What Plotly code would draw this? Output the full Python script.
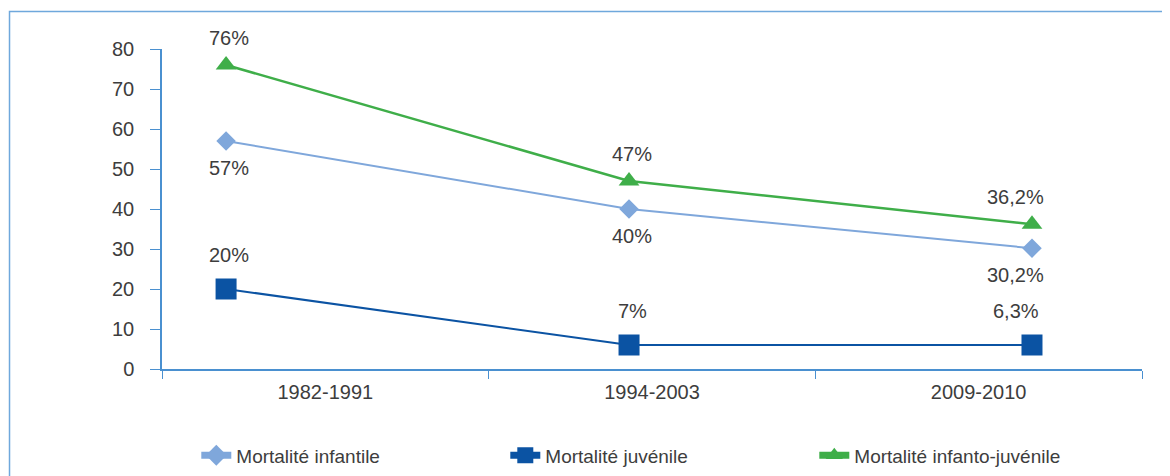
import plotly.graph_objects as go

# ---- data ----
periods = ["1982-1991", "1994-2003", "2009-2010"]
infantile = [57, 40, 30.2]
juvenile = [20, 6, 6]
infanto_juvenile = [76, 47, 36.2]
infantile_labels = ["57%", "40%", "30,2%"]
juvenile_labels = ["20%", "7%", "6,3%"]
infanto_juvenile_labels = ["76%", "47%", "36,2%"]
y_ticks = [0, 10, 20, 30, 40, 50, 60, 70, 80]
series_names = ["Mortalité infantile", "Mortalité juvénile", "Mortalité infanto-juvénile"]

# ---- style ----
FONT = "Liberation Sans, Arial, Helvetica, sans-serif"
TXT = "#3d3d3d"
AXIS = "#4a90d0"
C_INF = "#7fa7db"
C_JUV = "#0b53a3"
C_IJ = "#3fae49"
FS = 20

fig = go.Figure()

# invisible trace to anchor category ticks on the visible x axis
fig.add_trace(go.Scatter(x=periods, y=[None] * len(periods), xaxis="x", yaxis="y",
                         showlegend=False, hoverinfo="skip", mode="lines"))

series = [
    (series_names[0], infantile, C_INF, "diamond", 15, 2, 16),
    (series_names[1], juvenile, C_JUV, "square", 21, 2, 16),
    (series_names[2], infanto_juvenile, C_IJ, "triangle-up", 18, 2.5, 15),
]
for name, vals, col, sym, ms, lw, lms in series:
    fig.add_trace(go.Scatter(x=periods, y=vals, name=name, xaxis="x2", yaxis="y",
                             mode="lines+markers", line=dict(color=col, width=lw),
                             marker=dict(symbol=sym, size=ms, color=col), showlegend=False))
# legend entries (thick line + marker, as in the original key)
for name, vals, col, sym, ms, lw, lms in series:
    fig.add_trace(go.Scatter(x=[periods[0]], y=[None], name=name, xaxis="x2", yaxis="y",
                             mode="lines+markers", line=dict(color=col, width=7),
                             marker=dict(symbol=sym, size=lms, color=col), hoverinfo="skip"))

annotations = []
for vals, labels, yshift in [(infantile, infantile_labels, -27),
                             (juvenile, juvenile_labels, 34),
                             (infanto_juvenile, infanto_juvenile_labels, 27)]:
    for i, (p, v, t) in enumerate(zip(periods, vals, labels)):
        annotations.append(dict(x=p, y=v, xref="x2", yref="y", text=t, showarrow=False,
                                yshift=yshift, xshift=(-16 if i == 2 else 3),
                                font=dict(family=FONT, size=FS, color=TXT)))

fig.update_layout(
    width=1170, height=476,
    margin=dict(l=154, r=36, t=41, b=115, autoexpand=False),
    paper_bgcolor="white", plot_bgcolor="white",
    font=dict(family=FONT, size=FS, color=TXT),
    xaxis=dict(type="category", categoryarray=periods, range=[-0.5, 2.5],
               tickson="boundaries", ticks="outside", ticklen=8, tickcolor=AXIS,
               showline=True, linecolor=AXIS, linewidth=1.5, showgrid=False, zeroline=False,
               ticklabelstandoff=4, tickfont=dict(family=FONT, size=FS, color=TXT)),
    xaxis2=dict(type="category", categoryarray=periods, overlaying="x", range=[-0.159, 2.273],
                visible=False),
    yaxis=dict(range=[0, 80], tickvals=y_ticks, ticks="outside", ticklen=10, tickcolor=AXIS,
               showline=True, linecolor=AXIS, linewidth=1.5, showgrid=False, zeroline=False,
               ticklabelstandoff=12, tickfont=dict(family=FONT, size=FS, color=TXT)),
    legend=dict(orientation="h", x=0.035, xanchor="left", y=-0.27, yanchor="middle",
                entrywidth=264, entrywidthmode="pixels", itemsizing="trace",
                font=dict(family=FONT, size=FS - 1, color=TXT)),
    annotations=annotations,
    shapes=[dict(type="rect", xref="paper", yref="paper", x0=-0.1556, x1=1.06, y0=-0.45, y1=1.117,
                 line=dict(color="#6fa8dc", width=1.5), fillcolor="rgba(0,0,0,0)", layer="below")],
)

fig.write_html("out.html")
